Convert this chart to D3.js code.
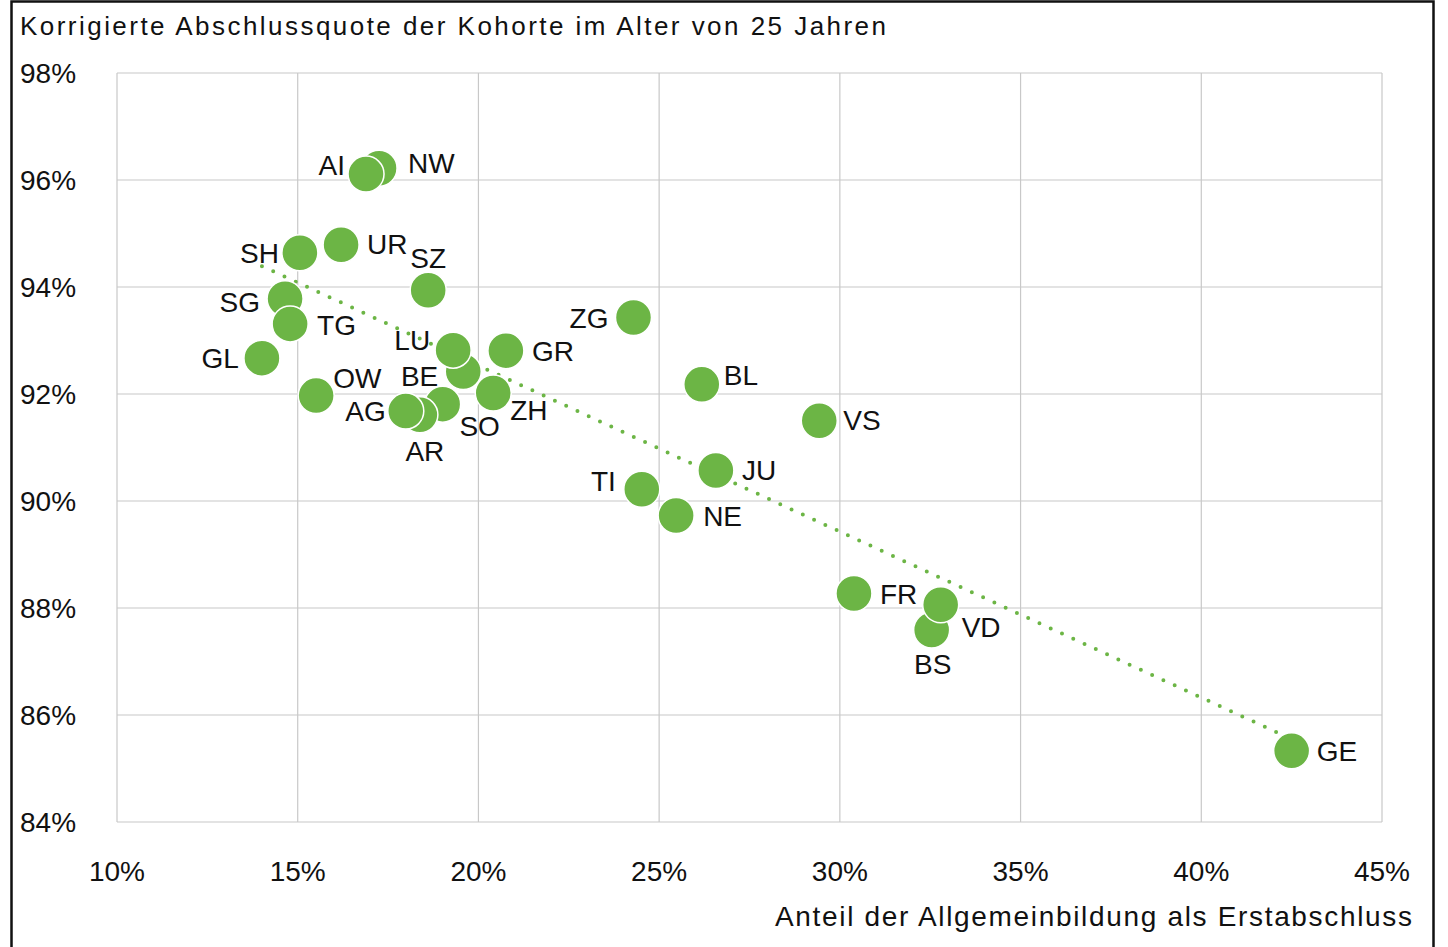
<!DOCTYPE html>
<html><head><meta charset="utf-8">
<script src="https://cdn.jsdelivr.net/npm/d3@7"></script>
<style>
html,body{margin:0;padding:0;background:#fff;}
svg text{font-family:"Liberation Sans",Arial,sans-serif;fill:#111;}
</style></head>
<body><svg id="c" width="1448" height="947"></svg>
<script>
const cantons = ["NW","AI","UR","SH","SZ","SG","TG","GL","BE","LU","GR","OW","SO","AR","AG","ZH","ZG","BL","VS","JU","TI","NE","FR","BS","VD","GE"];
const generalShare = [17.25,16.89,16.20,15.06,18.61,14.65,14.79,14.01,19.58,19.30,20.76,15.51,19.01,18.38,17.99,20.41,24.29,26.18,29.43,26.57,24.52,25.47,30.39,32.54,32.79,42.50];
const completionRate = [96.22,96.11,94.79,94.64,93.94,93.78,93.31,92.67,92.42,92.82,92.81,91.97,91.81,91.61,91.68,92.02,93.43,92.18,91.50,90.57,90.22,89.73,88.27,87.59,88.06,85.33];
const trendX = [14.01,42.5];
const trendY = [94.39,85.55];
const xTicks = [10,15,20,25,30,35,40,45];
const yTicks = [84,86,88,90,92,94,96,98];
const titleText = "Korrigierte Abschlussquote der Kohorte im Alter von 25 Jahren";
const xTitle = "Anteil der Allgemeinbildung als Erstabschluss";
// label placement (style): [anchor, dx, dy] relative to circle centre
const labelPlace = {
  NW:["start",29,-5], AI:["end",-21,-9], UR:["start",26,-1], SH:["end",-21,0],
  SZ:["middle",0,-32], SG:["end",-25,3], TG:["start",27,1], GL:["end",-23,0],
  BE:["end",-25,4], LU:["end",-23,-10], GR:["start",26,0], OW:["start",17,-18],
  SO:["middle",37,22], AR:["middle",5,36], AG:["end",-20,0], ZH:["start",17,17],
  ZG:["end",-25,0], BL:["start",22,-9], VS:["start",24,-1], JU:["start",26,-1],
  TI:["end",-26,-8], NE:["start",27,0], FR:["start",26,0], BS:["middle",1,34],
  VD:["start",21,22], GE:["start",25,0]
};

const svg = d3.select("#c");
const x = d3.scaleLinear().domain([10,45]).range([117,1382]);
const y = d3.scaleLinear().domain([84,98]).range([822,73]);
const green = "#6cb545";

// frame
svg.append("rect").attr("x",11.5).attr("y",1.5).attr("width",1422).attr("height",960)
  .attr("fill","none").attr("stroke","#111").attr("stroke-width",2.5);

// title
svg.append("text").attr("x",20).attr("y",35).attr("font-size",26)
  .attr("textLength",866).attr("lengthAdjust","spacing").text(titleText);

// grid
const g = svg.append("g");
g.selectAll(".vx").data(xTicks).join("line")
  .attr("x1",d=>x(d)).attr("x2",d=>x(d)).attr("y1",y(98)).attr("y2",y(84))
  .attr("stroke","#c8c8c8").attr("stroke-width",1.2);
g.selectAll(".hy").data(yTicks).join("line")
  .attr("y1",d=>y(d)).attr("y2",d=>y(d)).attr("x1",x(10)).attr("x2",x(45))
  .attr("stroke","#c8c8c8").attr("stroke-width",1.2);

// axes labels
const fmt = d=>d+"%";
svg.selectAll(".yt").data(yTicks).join("text")
  .attr("x",20).attr("y",d=>y(d)).attr("dy","0.36em").attr("font-size",28).text(fmt);
svg.selectAll(".xt").data(xTicks).join("text")
  .attr("x",d=>x(d)).attr("y",871).attr("dy","0.36em").attr("text-anchor","middle").attr("font-size",28).text(fmt);
svg.append("text").attr("x",775).attr("y",916).attr("dy","0.36em")
  .attr("font-size",28).attr("textLength",637).attr("lengthAdjust","spacing").text(xTitle);

// trend line
svg.append("line").attr("x1",x(trendX[0])).attr("y1",y(trendY[0]))
  .attr("x2",x(trendX[1])).attr("y2",y(trendY[1]))
  .attr("stroke",green).attr("stroke-width",4).attr("stroke-linecap","round")
  .attr("stroke-dasharray","0 12.4");

// points
const pts = cantons.map((c,i)=>({c, xv:generalShare[i], yv:completionRate[i]}));
svg.selectAll(".pt").data(pts).join("circle")
  .attr("cx",d=>x(d.xv)).attr("cy",d=>y(d.yv)).attr("r",18)
  .attr("fill",green).attr("stroke","#fff").attr("stroke-width",1.5);

svg.selectAll(".lb").data(pts).join("text")
  .attr("x",d=>x(d.xv)+labelPlace[d.c][1])
  .attr("y",d=>y(d.yv)+labelPlace[d.c][2])
  .attr("dy","0.36em")
  .attr("text-anchor",d=>labelPlace[d.c][0])
  .attr("font-size",28).text(d=>d.c);
</script></body></html>
